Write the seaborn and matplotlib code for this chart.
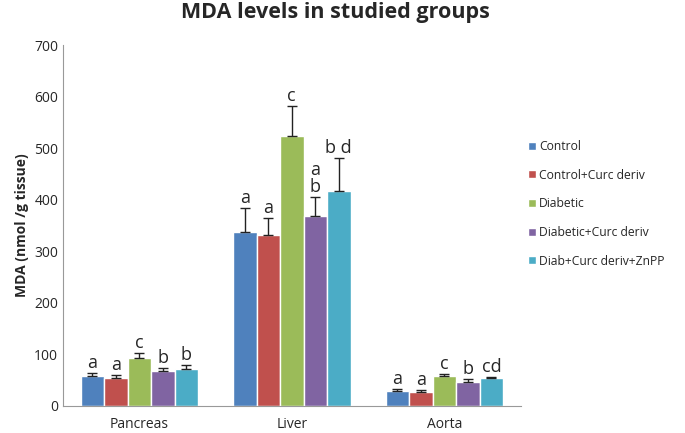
import numpy as np
import matplotlib
matplotlib.use("Agg")
import matplotlib.pyplot as plt
import seaborn as sns
import pandas as pd

organs = ["Pancreas", "Liver", "Aorta"]
groups = ["Control", "Control+Curc deriv", "Diabetic", "Diabetic+Curc deriv", "Diab+Curc deriv+ZnPP"]
colors = ["#4F81BD", "#C0504D", "#9BBB59", "#8064A2", "#4BACC6"]

# mean values per group for each organ
control = [57, 337, 29]
control_curc = [53, 331, 27]
diabetic = [93, 523, 57]
diabetic_curc = [67, 368, 47]
diab_znpp = [72, 416, 53]

# upper error values
err_control = [6, 46, 4]
err_control_curc = [6, 34, 3]
err_diabetic = [10, 59, 5]
err_diabetic_curc = [6, 37, 4]
err_diab_znpp = [7, 65, 3]

# significance letters
letters_control = ["a", "a", "a"]
letters_control_curc = ["a", "a", "a"]
letters_diabetic = ["c", "c", "c"]
letters_diabetic_curc = ["b", "a\nb", "b"]
letters_diab_znpp = ["b", "b d", "cd"]

values = [control, control_curc, diabetic, diabetic_curc, diab_znpp]
errors = [err_control, err_control_curc, err_diabetic, err_diabetic_curc, err_diab_znpp]
letters = [letters_control, letters_control_curc, letters_diabetic, letters_diabetic_curc, letters_diab_znpp]

rows = []
for g, vals in zip(groups, values):
    for o, v in zip(organs, vals):
        rows.append({"Organ": o, "Group": g, "MDA": v})
df = pd.DataFrame(rows)

sns.set_style("white")
plt.rcParams["font.family"] = ["Open Sans", "DejaVu Sans"]

fig, ax = plt.subplots(figsize=(6.85, 4.33), dpi=100)
fig.subplots_adjust(left=0.092, right=0.76, top=0.896, bottom=0.063)

sns.barplot(data=df, x="Organ", y="MDA", hue="Group", hue_order=groups,
            order=organs, palette=colors, width=0.77, gap=0, errorbar=None,
            saturation=1, ax=ax)

# error bars and letters placed on the drawn bars
bar_containers = list(ax.containers)
for gi, container in enumerate(bar_containers):
    for oi, bar in enumerate(container.patches):
        x = bar.get_x() + bar.get_width() / 2
        h = bar.get_height()
        e = errors[gi][oi]
        ax.errorbar(x, h, yerr=[[0], [e]], fmt="none", ecolor="#222222",
                    elinewidth=1, capsize=3.5, capthick=1)
        ax.text(x, h + e + 2, letters[gi][oi], ha="center", va="bottom",
                fontsize=13, linespacing=0.9)

ax.set_ylim(0, 700)
ax.set_xlim(-0.5, 2.5)
ax.set_yticks(range(0, 701, 100))
ax.set_xlabel("")
ax.set_ylabel("MDA (nmol /g tissue)", fontsize=10, fontweight="bold")
fig.suptitle("MDA levels in studied groups", x=0.49, y=0.995, va="top",
             fontsize=15.5, fontweight="bold")
ax.tick_params(axis="both", labelsize=10, length=0)
ax.tick_params(axis="x", pad=8)
for s in ["top", "right"]:
    ax.spines[s].set_visible(False)
for s in ["left", "bottom"]:
    ax.spines[s].set_color("#999999")

ax.legend(loc="center left", bbox_to_anchor=(1.0, 0.56), frameon=False,
          fontsize=8.7, handlelength=0.65, handleheight=0.65, handletextpad=0.3,
          labelspacing=1.3, borderaxespad=0.2)

fig.savefig("out.png", dpi=100)
